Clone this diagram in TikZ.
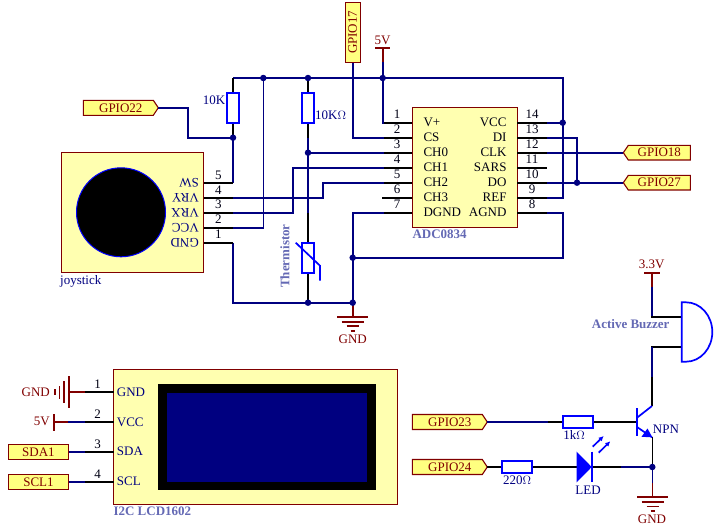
\documentclass[tikz,border=0pt]{standalone}
\usepackage{fontspec}
\setmainfont{Liberation Serif}
\usetikzlibrary{arrows.meta}
\definecolor{wirenavy}{HTML}{000080}
\definecolor{symblue}{HTML}{0000FF}
\definecolor{dred}{HTML}{800000}
\definecolor{paleyel}{HTML}{FFFFB0}
\definecolor{tagyel}{HTML}{FFFF80}
\definecolor{softblue}{HTML}{6469B4}
\tikzset{
  lab/.style={inner sep=0pt,font=\fontsize{13}{13}\selectfont,text height=8.5pt,text depth=0pt},
  redlab/.style={lab,text=dred},
  navylab/.style={lab,text=wirenavy},
  blacklab/.style={lab,text=black!85!wirenavy},
  softlab/.style={lab,text=softblue,font=\fontsize{13}{13}\selectfont\bfseries},
  wire/.style={draw=wirenavy,line width=1.6pt,line join=miter},
  pinline/.style={draw=black,line width=1.6pt},
  redline/.style={draw=dred,line width=1.6pt},
  sym/.style={draw=symblue,line width=1.7pt},
  tagbox/.style={draw=dred,line width=1.1pt,fill=tagyel,line join=miter},
  part/.style={draw=dred,line width=1.1pt,fill=paleyel},
  junction/.style={circle,fill=wirenavy,inner sep=0pt,minimum size=6.5pt},
  resbody/.style={draw=symblue,line width=1.7pt,fill=white,inner sep=0pt}
}
\newcommand{\tagright}[4]{%
  \draw[tagbox] (#2,#3-7.5) -- (#2+70,#3-7.5) -- (#2+75,#3) -- (#2+70,#3+7.5) -- (#2,#3+7.5) -- cycle;
  \node[redlab] (#1) at (#2+37.5,#3) {#4};
  \coordinate (#1tip) at (#2+75,#3);}
\newcommand{\tagleft}[4]{%
  \draw[tagbox] (#2,#3) -- (#2+5,#3-7.3) -- (#2+67,#3-7.3) -- (#2+67,#3+7.3) -- (#2+5,#3+7.3) -- cycle;
  \node[redlab] (#1) at (#2+36,#3) {#4};
  \coordinate (#1tip) at (#2,#3);}
\newcommand{\gndsym}[2]{%
  \draw[redline] (#1-15.5,#2) -- (#1+15.5,#2);
  \draw[redline] (#1-11,#2+5) -- (#1+11,#2+5);
  \draw[redline] (#1-6,#2+9.5) -- (#1+6,#2+9.5);
  \draw[redline] (#1-2,#2+14) -- (#1+2,#2+14);}
\begin{document}
\begin{tikzpicture}[x=1pt,y=-1pt]
\useasboundingbox (0,0) rectangle (728,530);
% ---- key coordinates
\coordinate (topL) at (233,78);
\coordinate (j1) at (263.3,78);
\coordinate (j2) at (308,78);
\coordinate (j3) at (382.7,78);
\coordinate (topR) at (562.7,78);
\coordinate (j4) at (233,137.7);
\coordinate (j5) at (308,152.7);
\coordinate (j6) at (308,302.7);
\coordinate (j7) at (352.7,302.7);
\coordinate (j8) at (352.7,257.7);
\coordinate (j9) at (562.7,122.7);
\coordinate (j10) at (577,182.7);
% ---- joystick part
\draw[part] (61.7,152.7) rectangle (203.7,272.3);
\node[circle,draw=symblue,line width=1pt,fill=black,minimum size=89pt,inner sep=0pt] (stick) at (121,212.3) {};
\foreach \n/\t/\y in {js5/SW/182.7,js4/VRY/197.7,js3/VRX/212.7,js2/VCC/227.7,js1/GND/242.7}
  \node[navylab,rotate=180,anchor=west] (\n) at (199,\y) {\t};
\node[navylab,anchor=west] (jsname) at (60,280) {joystick};
% ---- ADC part
\draw[part] (412.3,107.7) rectangle (517.3,227.3);
\foreach \n/\t/\y in {a1/V+/122.7,a2/CS/137.7,a3/CH0/152.7,a4/CH1/167.7,a5/CH2/182.7,a6/CH3/197.7,a7/DGND/212.7}
  \node[blacklab,anchor=west] (\n) at (423.3,\y) {\t};
\foreach \n/\t/\y in {a14/VCC/122.7,a13/DI/137.7,a12/CLK/152.7,a11/SARS/167.7,a10/DO/182.7,a9/REF/197.7,a8/AGND/212.7}
  \node[blacklab,anchor=east] (\n) at (506.7,\y) {\t};
\node[softlab,anchor=west] (adcname) at (412.3,234) {ADC0834};
% ---- LCD part
\draw[part] (113.7,369.3) rectangle (397.3,504.3);
\fill[black] (158,384) rectangle (375.7,489.7);
\fill[wirenavy] (166.7,392.7) rectangle (367.3,481.7);
\foreach \n/\t/\y in {l1/GND/392,l2/VCC/422,l3/SDA/451.5,l4/SCL/481.5}
  \node[navylab,anchor=west] (\n) at (116.7,\y) {\t};
\node[softlab,anchor=west] (lcdname) at (113.3,511) {I2C LCD1602};
% ---- tags
\draw[tagbox] (345.7,2.7) rectangle (360.7,62.7);
\node[redlab,rotate=90] (g17) at (352.7,32.3) {GPIO17};
\coordinate (g17tip) at (352.7,62.7);
\tagright{g22}{83.3}{107.8}{GPIO22}
\tagleft{g18}{623.3}{152.7}{GPIO18}
\tagleft{g27}{623.3}{182.7}{GPIO27}
\tagright{g23}{412.3}{422}{GPIO23}
\tagright{g24}{412.3}{467}{GPIO24}
\draw[tagbox] (8.3,444.3) rectangle (68.7,459.3);
\node[redlab] (sda) at (38.5,451.8) {SDA1};
\draw[tagbox] (8.3,474.3) rectangle (68.7,489.3);
\node[redlab] (scl) at (38.5,481.8) {SCL1};
% ---- navy wires
\draw[wire] (topL) -- (j1) -- (j2) -- (j3) -- (topR) -- (j9) -- (562.7,197.7) -- (547,197.7);
\draw[wire] (g17tip) -- (352.7,137.7) -- (384,137.7);
\draw[wire] (382.7,62) -- (j3) -- (382.7,122.7) -- (384,122.7);
\draw[wire] (g22tip) -- (188,107.8) -- (188,137.7) -- (j4) -- (233,182.7);
\draw[wire] (j1) -- (263.3,227.7) -- (233,227.7);
\draw[wire] (233,197.7) -- (323,197.7) -- (323,182.7) -- (384,182.7);
\draw[wire] (233,212.7) -- (293,212.7) -- (293,167.7) -- (384,167.7);
\draw[wire] (308,137.7) -- (j5) -- (308,213);
\draw[wire] (j5) -- (384,152.7);
\draw[wire] (233,242.7) -- (233,302.7) -- (j6) -- (j7);
\draw[wire] (j7) -- (j8) -- (352.7,212.7) -- (384,212.7);
\draw[wire] (j8) -- (562.7,257.7) -- (562.7,212.7) -- (547,212.7);
\draw[wire] (547,122.7) -- (j9);
\draw[wire] (547,137.7) -- (577,137.7) -- (j10);
\draw[wire] (547,152.7) -- (g18tip);
\draw[wire] (547,182.7) -- (j10) -- (g27tip);
% ---- pins
\foreach \y in {122.7,137.7,152.7,167.7,182.7,212.7}
  \draw[pinline] (384,\y) -- (412.3,\y);
\draw[pinline] (382,197.7) -- (412.3,197.7);
\foreach \y in {122.7,137.7,152.7,167.7,182.7,197.7,212.7}
  \draw[pinline] (517.3,\y) -- (547,\y);
\foreach \y in {182.7,197.7,212.7,227.7,242.7}
  \draw[pinline] (203.7,\y) -- (233,\y);
\foreach \y in {392,422,452,482}
  \draw[pinline] (85,\y) -- (113.7,\y);
% ---- pin numbers
\foreach \n/\y in {1/114.3,2/129.3,3/144.3,4/159.3,5/174.3,6/189.3,7/204.3}
  \node[blacklab] (na\n) at (397,\y) {\n};
\foreach \n/\y in {14/114.3,13/129.3,12/144.3,11/159.3,10/174.3,9/189.3,8/204.3}
  \node[blacklab] (na\n) at (532,\y) {\n};
\foreach \n/\y in {5/175,4/190,3/204.5,2/219,1/234}
  \node[blacklab] (nj\n) at (218.3,\y) {\n};
\foreach \n/\y in {1/384.5,2/414.5,3/444.5,4/474.5}
  \node[blacklab] (nl\n) at (97.7,\y) {\n};
% ---- R1, R2, thermistor
\draw[pinline] (topL) -- (233,92.7);
\draw[pinline] (233,123.3) -- (j4);
\draw[pinline] (j2) -- (308,92.7);
\draw[pinline] (308,123.3) -- (308,137.7);
\draw[pinline] (308,213) -- (308,242.7);
\draw[pinline] (308,273.3) -- (j6);
\node[resbody,minimum width=12.6pt,minimum height=30.6pt] (r1) at (233,108) {};
\node[resbody,minimum width=12.6pt,minimum height=30.6pt] (r2) at (308,108) {};
\node[resbody,minimum width=12.6pt,minimum height=30.6pt] (th) at (308,258) {};
\draw[sym] (295.7,242.7) -- (320,265.7) -- (320,280.7);
\node[navylab,anchor=east] (r1l) at (225.5,100) {10K};
\node[navylab,anchor=west] (r2l) at (315,115) {10K$\Omega$};
\node[softlab,rotate=90] (thl) at (285,256) {Thermistor};
% ---- supplies
\draw[redline] (375,48) -- (390,48);
\draw[redline] (382.7,48) -- (382.7,62);
\node[redlab] (v5a) at (382.5,40) {5V};
\draw[redline] (352.7,304) -- (352.7,316.7);
\gndsym{352.7}{316.7}
\node[redlab] (gnda) at (352.7,339.3) {GND};
% LCD supplies
\draw[redline] (69,392) -- (85,392);
\draw[redline] (69,376) -- (69,407.7);
\draw[redline] (64,381) -- (64,402.7);
\draw[redline] (59.3,386) -- (59.3,399);
\draw[redline] (54.7,389) -- (54.7,395);
\node[redlab,anchor=east] (gndl) at (50,392) {GND};
\draw[redline] (54,422) -- (68,422);
\draw[wire] (68,422) -- (85,422);
\draw[redline] (54,414.3) -- (54,430.7);
\node[redlab,anchor=east] (v5l) at (50,421.7) {5V};
\draw[wire] (68.7,452) -- (85,452);
\draw[wire] (68.7,482) -- (85,482);
% ---- buzzer
\draw[redline] (644,272.7) -- (660.3,272.7);
\draw[redline] (652,272.7) -- (652,286.7);
\draw[wire] (652,286.7) -- (652,316.7);
\draw[pinline] (651.2,316.7) -- (681.7,316.7);
\draw[pinline] (681.7,346.7) -- (651.2,346.7);
\draw[wire] (652,346.7) -- (652,376.7);
\draw[pinline] (652,376.7) -- (652,406);
\draw[sym] (681.7,302.3) -- (686,302.3) arc[start angle=-90,end angle=90,x radius=26.3,y radius=29.7] -- (681.7,361.7) -- cycle;
\node[redlab] (v33) at (651.7,264.7) {3.3V};
\node[softlab] (bzl) at (630.7,324.7) {Active Buzzer};
% ---- transistor section
\draw[wire] (g23tip) -- (548,422);
\draw[pinline] (548,422) -- (637,422);
\node[resbody,minimum width=30pt,minimum height=12.6pt] (r3) at (577.7,422) {};
\node[navylab] (r3l) at (574,435.7) {1k$\Omega$};
\draw[sym,line width=1.9pt] (637,408.3) -- (637,436);
\draw[sym] (637,417.7) -- (652,406);
\draw[sym] (637,427) -- (652,437.3);
\fill[symblue] (652.3,437.3) -- (641.5,436.8) -- (647.5,428.5) -- cycle;
\node[navylab,anchor=west] (npn) at (652.7,429) {NPN};
\draw[pinline] (652.3,437.3) -- (652.3,467);
% LED branch
\draw[pinline] (g24tip) -- (621,467);
\draw[wire] (621,467) -- (652.3,467);
\node[resbody,minimum width=30pt,minimum height=12.6pt] (r4) at (517.3,467) {};
\node[navylab] (r4l) at (517,480.7) {220$\Omega$};
\fill[symblue] (576.7,451.7) -- (591.7,467) -- (576.7,482.3) -- cycle;
\draw[sym] (592.3,451.7) -- (592.3,482.3);
\draw[sym,-{Latex[length=5pt,width=5pt]}] (592.7,446.7) -- (603.7,436);
\draw[sym,-{Latex[length=5pt,width=5pt]}] (598.7,452.7) -- (610.3,441.3);
\node[navylab] (ledl) at (588,490.7) {LED};
\draw[wire] (652.3,467) -- (652.3,483);
\draw[redline] (652.3,483) -- (652.3,497);
\gndsym{652.5}{497}
\node[redlab] (gndb) at (652,519) {GND};
% ---- junctions
\foreach \c in {j1,j2,j3,j4,j5,j6,j7,j8,j9,j10}
  \node[junction] (d\c) at (\c) {};
\node[junction] (d11) at (652.3,467) {};
\end{tikzpicture}
\end{document}
